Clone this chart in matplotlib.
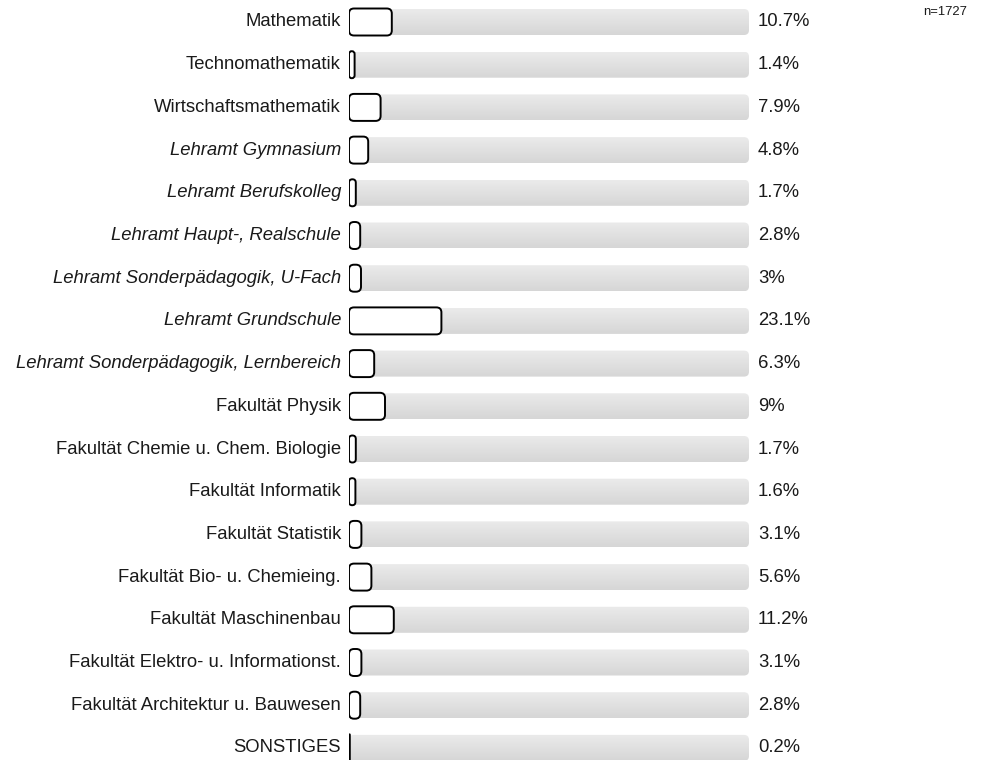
import matplotlib.pyplot as plt
import numpy as np
from matplotlib.patches import FancyBboxPatch

plt.rcParams['font.family'] = ['Liberation Sans', 'DejaVu Sans']

# Data
labels = ['Mathematik', 'Technomathematik', 'Wirtschaftsmathematik',
          'Lehramt Gymnasium', 'Lehramt Berufskolleg', 'Lehramt Haupt-, Realschule',
          'Lehramt Sonderpädagogik, U-Fach', 'Lehramt Grundschule',
          'Lehramt Sonderpädagogik, Lernbereich', 'Fakultät Physik',
          'Fakultät Chemie u. Chem. Biologie', 'Fakultät Informatik',
          'Fakultät Statistik', 'Fakultät Bio- u. Chemieing.',
          'Fakultät Maschinenbau', 'Fakultät Elektro- u. Informationst.',
          'Fakultät Architektur u. Bauwesen', 'SONSTIGES']
values = [10.7, 1.4, 7.9, 4.8, 1.7, 2.8, 3, 23.1, 6.3, 9, 1.7, 1.6, 3.1, 5.6, 11.2, 3.1, 2.8, 0.2]
value_labels = ['10.7%', '1.4%', '7.9%', '4.8%', '1.7%', '2.8%', '3%', '23.1%', '6.3%', '9%',
                '1.7%', '1.6%', '3.1%', '5.6%', '11.2%', '3.1%', '2.8%', '0.2%']
italic_rows = [3, 4, 5, 6, 7, 8]
n_total = 1727

W, H = 993, 760
fig = plt.figure(figsize=(W / 100, H / 100), dpi=100)

# axes: x 0..100 spans pixels 349..749
row0, step = 22.0, 42.7
ax = fig.add_axes([349 / W, 0, 400 / W, 1])
ax.set_xlim(0, 100)
ax.set_ylim((H - row0) / step, -row0 / step)
ax.axis('off')

px_x = 100 / 400.0          # data units per pixel in x
px_y = 1 / step             # data units per pixel in y
aspect = px_y / px_x

track_h = 26 * px_y
bar_h = 27 * px_y
rad = 5 * px_x

grad = np.linspace(0, 1, 64).reshape(-1, 1)
grad_cmap = plt.matplotlib.colors.LinearSegmentedColormap.from_list('g', ['#ebebeb', '#d6d6d6'])

for i, (lab, v, vl) in enumerate(zip(labels, values, value_labels)):
    # grey track with gradient
    track = FancyBboxPatch((0, i - track_h / 2), 100, track_h,
                           boxstyle='round,pad=0,rounding_size=%f' % rad,
                           mutation_aspect=aspect, facecolor='none', edgecolor='none')
    ax.add_patch(track)
    im = ax.imshow(grad, cmap=grad_cmap, aspect='auto',
                   extent=(0, 100, i + track_h / 2, i - track_h / 2), zorder=1)
    im.set_clip_path(track)

    # white bar with black outline
    r = min(rad, v / 2)
    bar = FancyBboxPatch((0, i - bar_h / 2), v, bar_h,
                         boxstyle='round,pad=0,rounding_size=%f' % r,
                         mutation_aspect=aspect, facecolor='white',
                         edgecolor='black', linewidth=1.4, zorder=3)
    ax.add_patch(bar)

    ax.text(-2, i, lab, ha='right', va='center', fontsize=13.3, color='#1a1a1a',
            style='italic' if i in italic_rows else 'normal', clip_on=False)
    ax.text(102.2, i, vl, ha='left', va='center', fontsize=13.3, color='#1a1a1a', clip_on=False)

fig.text(967 / W, 1 - 12 / H, 'n=%d' % n_total, ha='right', va='center', fontsize=9.4, color='#1a1a1a')

fig.savefig('out.png', dpi=100)
